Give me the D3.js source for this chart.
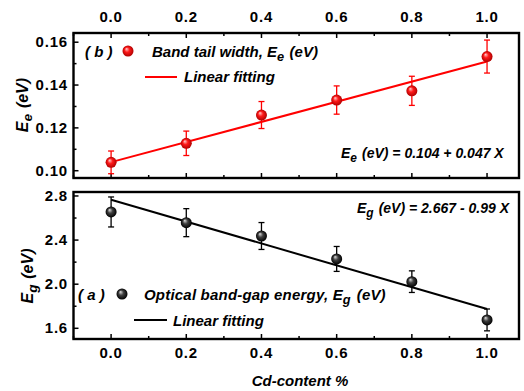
<!DOCTYPE html>
<html><head><meta charset="utf-8">
<script src="https://cdn.jsdelivr.net/npm/d3@7"></script>
<style>body{margin:0;background:#fff}svg{display:block}text{font-family:"Liberation Sans",Arial,sans-serif;font-weight:bold}</style>
</head><body><svg id="c" width="524" height="391"></svg>
<script>
const cdContent = [0.0, 0.2, 0.4, 0.6, 0.8, 1.0];
const Ee = [0.1039, 0.1128, 0.1260, 0.1330, 0.1373, 0.1533];
const EeErr = [0.0053, 0.0057, 0.0063, 0.0066, 0.0068, 0.0077];
const Eg = [2.655, 2.558, 2.437, 2.229, 2.023, 1.676];
const EgErr = [0.136, 0.127, 0.122, 0.113, 0.098, 0.099];
const fitEe = {a: 0.104, b: 0.047};
const fitEg = {a: 2.765, b: -0.99};
const xTicks = [0.0, 0.2, 0.4, 0.6, 0.8, 1.0];
const eeTicks = [0.10, 0.12, 0.14, 0.16];
const egTicks = [1.6, 2.0, 2.4, 2.8];

const svg = d3.select("#c");
const L = 73.5, R = 519;
const x = d3.scaleLinear().domain([-0.1, 1.085]).range([L, R]);
const yT = d3.scaleLinear().domain([0.0966, 0.1643]).range([178, 33]);
const yB = d3.scaleLinear().domain([1.503, 2.836]).range([339, 192]);

const defs = svg.append("defs");
function grad(id, c0, c1, c2) {
  const g = defs.append("radialGradient").attr("id", id).attr("cx", "50%").attr("cy", "50%").attr("r", "50%").attr("fx", "35%").attr("fy", "30%");
  g.append("stop").attr("offset", "0%").attr("stop-color", c0);
  g.append("stop").attr("offset", "45%").attr("stop-color", c1);
  g.append("stop").attr("offset", "100%").attr("stop-color", c2);
}
grad("gr", "#ffd0d0", "#ff1a1a", "#b00000");
grad("gk", "#e0e0e0", "#404040", "#000000");

function panel(y, ticks, minorStep, col, fill, vals, errs, fit, topLabels, bottomLabels, fmt) {
  const [y0, y1] = y.domain();
  const g = svg.append("g");
  const minorX = d3.range(-0.1, 1.0851, 0.1).map(v => +v.toFixed(2));
  const ytop = y.range()[1], ybot = y.range()[0];
  minorX.forEach(v => {
    const major = xTicks.some(t => Math.abs(t - v) < 1e-6);
    const len = major ? 5 : 3;
    if (topLabels) g.append("line").attr("x1", x(v)).attr("x2", x(v)).attr("y1", ytop).attr("y2", ytop + len).attr("stroke", "#000").attr("stroke-width", 1.5);
    g.append("line").attr("x1", x(v)).attr("x2", x(v)).attr("y1", ybot).attr("y2", ybot - len).attr("stroke", "#000").attr("stroke-width", 1.5);
  });
  const step = minorStep;
  for (let v = Math.ceil(y0 / step) * step; v <= y1 + 1e-9; v += step) {
    const major = ticks.some(t => Math.abs(t - v) < 1e-6);
    const len = major ? 5 : 3;
    g.append("line").attr("x1", L).attr("x2", L + len).attr("y1", y(v)).attr("y2", y(v)).attr("stroke", "#000").attr("stroke-width", 1.5);
  }
  ticks.forEach(t => {
    g.append("text").attr("x", 68).attr("y", y(t) + 5).attr("text-anchor", "end").attr("font-size", 15).attr("letter-spacing", 0.8).text(fmt(t));
  });
  if (topLabels) xTicks.forEach(t => g.append("text").attr("x", x(t)).attr("y", 22).attr("text-anchor", "middle").attr("font-size", 15).attr("letter-spacing", 0.8).text(t.toFixed(1)));
  if (bottomLabels) xTicks.forEach(t => g.append("text").attr("x", x(t)).attr("y", 358).attr("text-anchor", "middle").attr("font-size", 15).attr("letter-spacing", 0.8).text(t.toFixed(1)));
  g.append("line").attr("x1", x(0)).attr("x2", x(1)).attr("y1", y(fit.a)).attr("y2", y(fit.a + fit.b)).attr("stroke", col).attr("stroke-width", 2);
  cdContent.forEach((c, i) => {
    const cx = x(c), hi = y(vals[i] + errs[i]), lo = y(vals[i] - errs[i]);
    g.append("line").attr("x1", cx).attr("x2", cx).attr("y1", hi).attr("y2", lo).attr("stroke", col).attr("stroke-width", 1.3);
    [hi, lo].forEach(yy => g.append("line").attr("x1", cx - 3).attr("x2", cx + 3).attr("y1", yy).attr("y2", yy).attr("stroke", col).attr("stroke-width", 1.3));
  });
  cdContent.forEach((c, i) => {
    g.append("circle").attr("cx", x(c)).attr("cy", y(vals[i])).attr("r", 5.5).attr("fill", `url(#${fill})`);
  });
  g.append("rect").attr("x", L).attr("y", ytop).attr("width", R - L).attr("height", ybot - ytop).attr("fill", "none").attr("stroke", "#000").attr("stroke-width", 2.4);
}

panel(yT, eeTicks, 0.01, "#ff0000", "gr", Ee, EeErr, fitEe, true, false, d => d.toFixed(2));
panel(yB, egTicks, 0.2, "#000000", "gk", Eg, EgErr, fitEg, false, true, d => d.toFixed(1));

function richText(x0, y0, size, parts, anchor, ls) {
  const t = svg.append("text").attr("x", x0).attr("y", y0).attr("font-size", size).attr("font-style", "italic");
  if (anchor) t.attr("text-anchor", anchor);
  if (ls) t.attr("letter-spacing", ls);
  parts.forEach(p => {
    if (typeof p === "string") t.append("tspan").text(p);
    else {
      t.append("tspan").attr("dy", p.dy).attr("font-size", size * 0.85).text(p.sub);
      t.append("tspan").attr("dy", -p.dy).text("\u200a");
    }
  });
  return t;
}

// Top legend
richText(85, 57, 15, ["( b )"]);
svg.append("circle").attr("cx", 128).attr("cy", 51).attr("r", 5.5).attr("fill", "url(#gr)");
richText(152, 57, 15, ["Band tail width, E", {sub: "e", dy: 4}, " (eV)"]);
svg.append("line").attr("x1", 145).attr("x2", 177).attr("y1", 77).attr("y2", 77).attr("stroke", "#ff0000").attr("stroke-width", 2);
richText(184, 82, 15, ["Linear fitting"]);
richText(341, 158, 14, ["E", {sub: "e", dy: 4}, " (eV) = 0.104 + 0.047 X"]);

// Bottom legend
richText(357, 213, 14, ["E", {sub: "g", dy: 4}, " (eV) = 2.667 - 0.99 X"]);
richText(78, 300, 15, ["( a )"]);
svg.append("circle").attr("cx", 122).attr("cy", 294).attr("r", 5.5).attr("fill", "url(#gk)");
richText(144, 300, 15, ["Optical band-gap energy, E", {sub: "g", dy: 4}, "  (eV)"], null, 0.2);
svg.append("line").attr("x1", 134).attr("x2", 167).attr("y1", 320).attr("y2", 320).attr("stroke", "#000").attr("stroke-width", 2);
richText(173, 326, 15, ["Linear fitting"]);

// Axis titles
const t1 = richText(0, 0, 16, ["E", {sub: "e", dy: 4}, " (eV)"], "middle");
t1.attr("transform", "translate(28,105) rotate(-90)");
const t2 = richText(0, 0, 16, ["E", {sub: "g", dy: 4}, " (eV)"], "middle");
t2.attr("transform", "translate(33,276) rotate(-90)");
richText(300, 386, 15, ["Cd-content %"], "middle");
</script></body></html>
